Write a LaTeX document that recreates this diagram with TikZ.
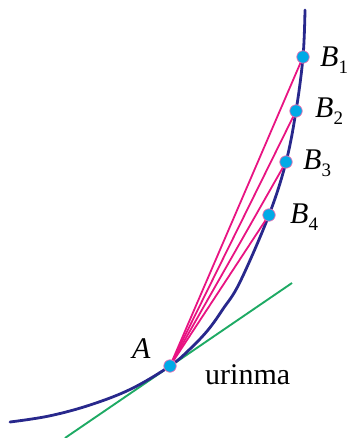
\documentclass[tikz,border=0pt]{standalone}
\usepackage{fontspec}
\setmainfont{Liberation Serif}
\usepackage{tikz}
\usetikzlibrary{positioning}
\definecolor{curveblue}{RGB}{40,40,140}
\definecolor{chordpink}{RGB}{232,20,130}
\definecolor{tangreen}{RGB}{30,170,100}
\definecolor{dotcyan}{RGB}{0,170,230}
\newcommand{\bpt}[1]{\textit{B}\raisebox{-7pt}{\fontsize{19}{20}\selectfont #1}}

\begin{document}
\begin{tikzpicture}[x=1pt, y=-1pt,
      font=\fontsize{30}{34}\selectfont,
      curve/.style={curveblue, line width=2.8pt, line cap=round},
      chord/.style={chordpink, line width=1.8pt},
      tang/.style={tangreen, line width=1.9pt},
      pt/.style={circle, fill=dotcyan, draw=chordpink!60, line width=0.7pt,
                 inner sep=0pt, minimum size=12.5pt},
      lbl/.style={anchor=base west, inner sep=0pt},
    ]
    \useasboundingbox (0,0) rectangle (349,438);
    \coordinate (a)  at (170,366);
    \coordinate (b1) at (303,57);
    \coordinate (b2) at (296,111);
    \coordinate (b3) at (286,162);
    \coordinate (b4) at (269,215);
    \coordinate (t1) at (65,438);
    \coordinate (t2) at (292,283);
    % tangent and curve
    \draw[tang] (t1) -- (t2);
    \draw[curve] plot[smooth, tension=0.6] coordinates {(10,422) (49,416) (90,405)
      (131,389) (170,366) (190,349) (208,330) (223,309) (240,282)
      (269,215) (286,162) (296,111) (303,57) (305,10)};
    \foreach \i in {1,...,4}
      \draw[chord] (a) -- (b\i);
    \node[pt] (pa) at (a) {};
    \foreach \i in {1,...,4}
      \node[pt] (pb\i) at (b\i) {};
    \node[lbl] (la) at (132,358) {\textit{A}};
    \node[lbl] (lb1) at (320,67) {\bpt{1}};
    \node[lbl] (lb2) at (315,118) {\bpt{2}};
    \node[lbl] (lb3) at (303,170) {\bpt{3}};
    \node[lbl] (lb4) at (290,223) {\bpt{4}};
    \node[lbl] (urinma) at (205,384) {urinma};
  \end{tikzpicture}
\end{document}
